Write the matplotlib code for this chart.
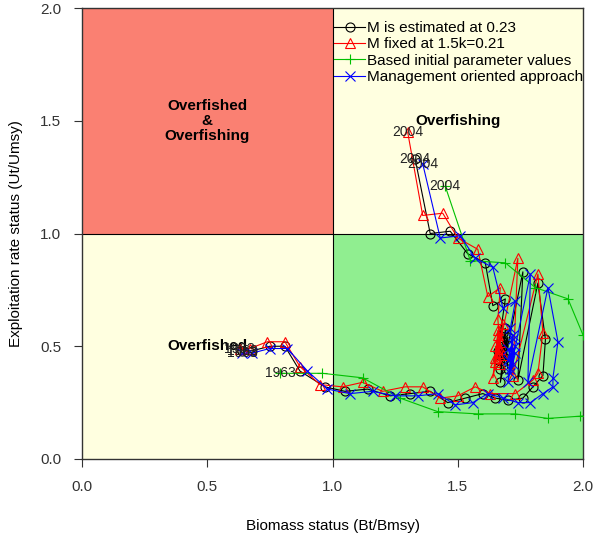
import numpy as np
import matplotlib
matplotlib.use("Agg")
import matplotlib.pyplot as plt
from matplotlib.patches import Rectangle

plt.rcParams['font.family'] = ['Liberation Sans', 'DejaVu Sans']

# Trajectories 1963-2004 (B/Bmsy, U/Umsy).
est_b = [0.64, 0.68, 0.75, 0.81, 0.87, 0.97, 1.05, 1.14, 1.23, 1.31, 1.39, 1.46, 1.53, 1.60,
         1.65, 1.70, 1.76, 1.80, 1.84, 1.85, 1.82, 1.74, 1.76, 1.67, 1.69, 1.70, 1.68, 1.66,
         1.68, 1.67, 1.70, 1.67, 1.69, 1.68, 1.66, 1.69, 1.64, 1.61, 1.54, 1.47, 1.39, 1.33]
est_u = [0.48, 0.48, 0.50, 0.50, 0.39, 0.32, 0.30, 0.31, 0.28, 0.29, 0.30, 0.25, 0.27, 0.29,
         0.27, 0.26, 0.27, 0.32, 0.37, 0.53, 0.78, 0.35, 0.83, 0.34, 0.58, 0.40, 0.52, 0.44,
         0.50, 0.40, 0.54, 0.46, 0.45, 0.56, 0.48, 0.71, 0.68, 0.87, 0.91, 1.01, 1.00, 1.33]

fix_b = [0.63, 0.67, 0.74, 0.81, 0.87, 0.95, 1.04, 1.12, 1.20, 1.29, 1.36, 1.43, 1.50, 1.57,
         1.63, 1.73, 1.80, 1.82, 1.84, 1.82, 1.72, 1.74, 1.64, 1.66, 1.67, 1.65, 1.68, 1.66,
         1.65, 1.67, 1.66, 1.68, 1.65, 1.67, 1.66, 1.67, 1.62, 1.58, 1.50, 1.44, 1.36, 1.30]
fix_u = [0.49, 0.49, 0.52, 0.52, 0.41, 0.33, 0.32, 0.34, 0.30, 0.32, 0.32, 0.27, 0.28, 0.32,
         0.29, 0.29, 0.35, 0.38, 0.56, 0.82, 0.37, 0.89, 0.36, 0.55, 0.42, 0.50, 0.46, 0.57,
         0.43, 0.52, 0.47, 0.60, 0.45, 0.49, 0.62, 0.76, 0.72, 0.93, 0.98, 1.09, 1.08, 1.45]

init_b = [0.79, 0.96, 1.12, 1.27, 1.42, 1.58, 1.73, 1.86, 1.99, 2.12, 2.25, 2.32, 2.20,
          2.00, 1.94, 1.81, 1.69, 1.55, 1.45]
init_u = [0.38, 0.38, 0.36, 0.27, 0.21, 0.20, 0.20, 0.18, 0.19, 0.20, 0.24, 0.33, 0.45,
          0.55, 0.71, 0.76, 0.87, 0.88, 1.21]

mgmt_b = [0.64, 0.68, 0.75, 0.82, 0.90, 0.98, 1.07, 1.16, 1.25, 1.34, 1.42, 1.49, 1.56, 1.62,
          1.68, 1.74, 1.79, 1.84, 1.88, 1.88, 1.90, 1.86, 1.78, 1.79, 1.70, 1.72, 1.71, 1.73,
          1.70, 1.72, 1.71, 1.73, 1.70, 1.72, 1.71, 1.73, 1.68, 1.64, 1.57, 1.51, 1.43, 1.36]
mgmt_u = [0.47, 0.47, 0.49, 0.49, 0.39, 0.31, 0.29, 0.30, 0.28, 0.28, 0.29, 0.24, 0.25, 0.29,
          0.27, 0.25, 0.25, 0.29, 0.32, 0.36, 0.52, 0.76, 0.34, 0.82, 0.34, 0.55, 0.40, 0.50,
          0.44, 0.53, 0.38, 0.47, 0.49, 0.42, 0.58, 0.70, 0.67, 0.85, 0.89, 0.99, 0.98, 1.31]

labels = ['M is estimated at 0.23', 'M fixed at 1.5k=0.21',
          'Based initial parameter values', 'Management oriented approach']
first_year, last_year = '1963', '2004'

fs = 11

fig = plt.figure(figsize=(6.0, 5.33), dpi=100)
ax = fig.add_axes([82 / 600, 74 / 533, 501 / 600, 451 / 533])
ax.set_xlim(0, 2)
ax.set_ylim(0, 2)

# Kobe quadrants.
ax.add_patch(Rectangle((0, 1), 1, 1, facecolor='salmon', edgecolor='none', zorder=0))
ax.add_patch(Rectangle((1, 1), 1, 1, facecolor='lightyellow', edgecolor='none', zorder=0))
ax.add_patch(Rectangle((0, 0), 1, 1, facecolor='lightyellow', edgecolor='none', zorder=0))
ax.add_patch(Rectangle((1, 0), 1, 1, facecolor='lightgreen', edgecolor='none', zorder=0))
ax.axvline(1, color='black', lw=0.8, zorder=1)
ax.axhline(1, color='black', lw=0.8, zorder=1)

ax.text(0.5, 1.5, 'Overfished\n&\nOverfishing', ha='center', va='center',
        fontsize=fs, fontweight='bold', linespacing=1.1)
ax.text(1.5, 1.5, 'Overfishing', ha='center', va='center', fontsize=fs, fontweight='bold')
ax.text(0.5, 0.5, 'Overfished', ha='center', va='center', fontsize=fs, fontweight='bold')

series = [(est_b, est_u, 'black', 'o'), (fix_b, fix_u, 'red', '^'),
          (init_b, init_u, '#00C000', '+'), (mgmt_b, mgmt_u, 'blue', 'x')]
for (b, u, col, mk), lab in zip(series, labels):
    ax.plot(b, u, color=col, lw=0.8, marker=mk, ms=6.5, mfc='none', mec=col,
            mew=0.8, label=lab, zorder=3)
    ax.text(b[0], u[0], first_year, ha='center', va='center', fontsize=10,
            color='#222222', zorder=4)
    ax.text(b[-1], u[-1], last_year, ha='center', va='center', fontsize=10,
            color='#222222', zorder=4)

leg = ax.legend(loc='upper left', bbox_to_anchor=(0.995, 1.955), bbox_transform=ax.transData,
                frameon=False, fontsize=fs, handlelength=2.0, handletextpad=0.15,
                labelspacing=0.15, borderaxespad=0, borderpad=0.2)

ax.set_xticks([0, 0.5, 1.0, 1.5, 2.0])
ax.set_yticks([0, 0.5, 1.0, 1.5, 2.0])
ax.set_xticklabels(['0.0', '0.5', '1.0', '1.5', '2.0'])
ax.set_yticklabels(['0.0', '0.5', '1.0', '1.5', '2.0'])
ax.tick_params(direction='out', length=6, width=0.8, labelsize=fs, colors='#333333',
               pad=9)
for sp in ax.spines.values():
    sp.set_color('#333333')
    sp.set_linewidth(1.0)

ax.set_xlabel('Biomass status (Bt/Bmsy)', fontsize=fs, labelpad=18)
ax.set_ylabel('Exploitation rate status (Ut/Umsy)', fontsize=fs, labelpad=12)

fig.savefig('out.png', dpi=100)
